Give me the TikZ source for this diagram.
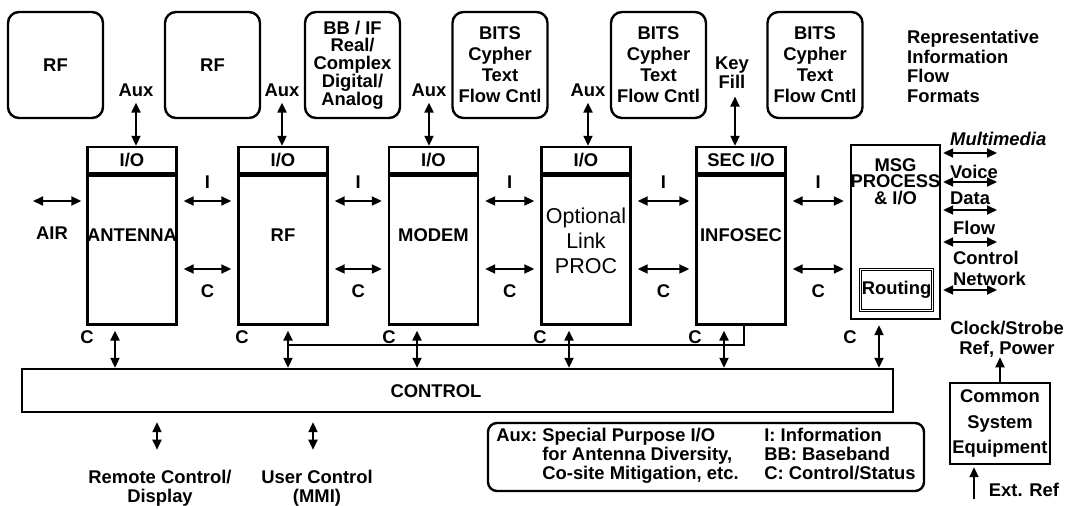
\documentclass[tikz,border=0pt]{standalone}
\usepackage{fontspec}
\setmainfont{Liberation Sans}
\usetikzlibrary{arrows.meta,positioning}
\newcommand\figfont{\fontsize{18.4}{19}\selectfont\bfseries}
\tikzset{
  topbox/.style={draw, line width=2.4pt, rounded corners=11pt, minimum width=95pt, minimum height=106pt, align=center},
  iobox/.style={draw, line width=2.4pt, minimum width=89pt, minimum height=26pt, inner sep=0pt},
  modbox/.style={draw, line width=2.4pt, minimum width=89pt, minimum height=149pt, inner sep=0pt},
  lbl/.style={inner sep=0pt, align=center},
  dbl/.style={{Triangle[length=10pt,width=9pt]}-{Triangle[length=10pt,width=9pt]}, line width=2pt},
  sgl/.style={-{Triangle[length=10pt,width=9pt]}, line width=2pt}
}

\begin{document}
\begin{tikzpicture}[x=1pt, y=-1pt, font=\figfont]
        \useasboundingbox (0,0) rectangle (1077,506);
        % flow formats
        \node[topbox] (fmtA) at (55.5,65) {RF};
        \node[topbox] (fmtB) at (212.5,65) {RF};
        \node[topbox, font={\fontsize{18.4}{17.75}\selectfont\bfseries}] (fmtC) at (352.5,65) {BB / IF\\Real/\\Complex\\Digital/\\Analog};
        \foreach \n/\x in {fmtD/500, fmtE/658.5, fmtF/815}
        {
            \node[topbox, font={\fontsize{18.4}{21}\selectfont\bfseries}] (\n) at (\x,65) {BITS\\Cypher\\Text\\Flow Cntl};
        }
        \node[lbl, anchor=north west, align=left, font={\fontsize{18.4}{19.5}\selectfont\bfseries}] (fmtnote) at (907,30) {Representative\\Information\\Flow\\Formats};
        % modules
        \node[iobox] (antio) at (132,160) {I/O};
        \node[modbox, below=0pt of antio] (ant) {};
        \node[iobox] (rfio) at (283,160) {I/O};
        \node[modbox, below=0pt of rfio] (rf) {};
        \node[iobox] (modio) at (433.5,160) {I/O};
        \node[modbox, below=0pt of modio] (mod) {};
        \node[iobox] (optio) at (586,160) {I/O};
        \node[modbox, below=0pt of optio] (opt) {};
        \node[iobox] (secio) at (741,160) {SEC I/O};
        \node[modbox, below=0pt of secio] (sec) {};
        \node[modbox, minimum height=174pt] (msg) at (895.5,232) {};
        \node[lbl, yshift=14.5pt] (antlbl) at (ant) {ANTENNA};
        \node[lbl, yshift=14.5pt] (rflbl) at (rf) {RF};
        \node[lbl, yshift=14.5pt] (modlbl) at (mod) {MODEM};
        \node[lbl, yshift=9.5pt, font={\fontsize{21.5}{25}\selectfont}] (optlbl) at (opt) {Optional\\Link\\PROC};
        \node[lbl, yshift=15pt] (seclbl) at (sec) {INFOSEC};
        \node[lbl, font={\fontsize{18.4}{16.5}\selectfont\bfseries}] (msglbl) at (895.5,181.5) {MSG\\PROCESS\\\& I/O};
        \node[draw, double, line width=1.1pt, double distance=1.5pt, minimum width=72pt, minimum height=41pt, inner sep=0pt] (route) at (896.5,290) {Routing};
        % information and control
        \coordinate (iy) at (0,201);
        \coordinate (cy) at (0,269);
        \foreach \a/\b in {ant/rf, rf/mod, mod/opt, opt/sec, sec/msg}
        {
            \draw[dbl, shorten <=6pt, shorten >=6pt] (\a.east |- iy) -- node[lbl, above=12pt] {I} (\b.west |- iy);
            \draw[dbl, shorten <=6pt, shorten >=6pt] (\a.east |- cy) -- node[lbl, below=15pt] {C} (\b.west |- cy);
        }
        \coordinate (air) at (33,201);
        \draw[dbl, shorten >=5pt] (air) -- (ant.west |- iy);
        \node[lbl] (airlbl) at (52,233) {AIR};
        % aux
        \foreach \n/\x in {antio/136, rfio/282, modio/429, optio/588}
        {
            \node[lbl] (aux\n) at (\x,90) {Aux};
            \draw[dbl, shorten <=6pt] (aux\n.south) -- (aux\n.south |- \n.north);
        }
        \node[lbl] (key) at (732,72.5) {Key\\Fill};
        \draw[dbl, shorten <=8pt] (key.south -| 735,0) -- (secio.north -| 735,0);
        % message side
        \coordinate (mr) at (997,0);
        \foreach \y in {153,182,210,242,290}
        {
            \draw[dbl, shorten <=2pt] (msg.east |- 0,\y) -- (mr |- 0,\y);
        }
        \node[lbl, anchor=west, font={\fontsize{18.4}{19}\selectfont\bfseries\itshape}] (mm) at (950,139) {Multimedia};
        \node[lbl, anchor=west] (voice) at (950,172) {Voice};
        \node[lbl, anchor=west] (data) at (950,198) {Data};
        \node[lbl, anchor=west] (flow) at (953,228) {Flow};
        \node[lbl, anchor=west, align=left, font={\fontsize{18.4}{21}\selectfont\bfseries}] (ctlnet) at (953,268) {Control\\Network};
        % control
        \node[draw, line width=2.4pt, minimum width=871pt, minimum height=43pt] (ctrl) at (457.5,390.5) {};
        \node[lbl] (ctrllbl) at (436,391) {CONTROL};
        \foreach \n/\x/\c in {ant/115/87, rf/288/242, mod/417/389, opt/569/540, sec/724/695, msg/879/850}
        {
            \draw[dbl, shorten <=5pt] (\n.south -| \x,0) -- (ctrl.north -| \x,0);
            \node[lbl] (c\n) at (\c,337) {C};
        }
        \coordinate (busl) at (288,345);
        \draw[line width=2pt] (busl) -| (sec.south -| 744,0);
        \node[lbl] (remote) at (160,488) {Remote Control/\\Display};
        \node[lbl] (user) at (317,488) {User Control\\(MMI)};
        \draw[dbl, shorten <=9pt, shorten >=20pt] (ctrl.south -| 157,0) -- (remote.north -| 157,0);
        \draw[dbl, shorten <=9pt, shorten >=20pt] (ctrl.south -| 313,0) -- (user.north -| 313,0);
        % legend
        \node[draw, line width=2.4pt, rounded corners=9pt, minimum width=436pt, minimum height=68pt, inner sep=0pt] (legend) at (706,457) {%
            \begin{tabular}{@{}l@{}p{222pt}@{}l@{}}
            Aux:\hspace{5.1pt} & Special Purpose I/O & I: Information\\
            & for Antenna Diversity, & BB: Baseband\\
            & Co-site Mitigation, etc. & C: Control/Status
            \end{tabular}};
        % common equipment
        \node[draw, line width=2.4pt, minimum width=100pt, minimum height=81pt, align=center, inner sep=0pt, font={\fontsize{18.4}{25.5}\selectfont\bfseries}] (cse) at (1000,423.5) {Common\\System\\Equipment};
        \node[lbl, font={\fontsize{18.4}{20}\selectfont\bfseries}] (clk) at (1007,339) {Clock/Strobe\\Ref, Power};
        \draw[sgl] (cse.north) -- (clk.south -| cse.north);
        \coordinate (extb) at (974,499);
        \draw[sgl, shorten >=2pt] (extb) -- (cse.south -| extb);
        \node[lbl] (extlbl) at (1024,490) {Ext. Ref};
\end{tikzpicture}
\end{document}
